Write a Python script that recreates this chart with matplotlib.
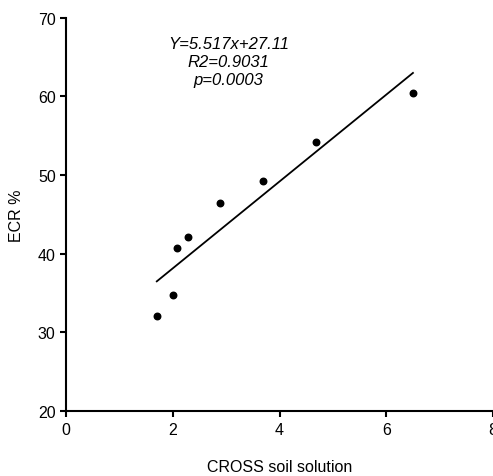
import matplotlib
matplotlib.use("Agg")
from matplotlib import pyplot as plt
import numpy as np

plt.rcParams['font.family'] = ['Liberation Sans', 'DejaVu Sans']

# data
cross = [1.7, 2.0, 2.08, 2.28, 2.88, 3.69, 4.69, 6.5]
ecr = [32.1, 34.7, 40.7, 42.1, 46.4, 49.2, 54.2, 60.4]
slope = 5.517
intercept = 27.11
fit_text = ["Y=5.517x+27.11", "R2=0.9031", "p=0.0003"]

fig = plt.figure(figsize=(4.93, 4.77), dpi=100)
ax = fig.add_axes([0.134, 0.136, 0.866, 0.825])

ax.scatter(cross, ecr, s=22, color='black', zorder=3)
xf = np.array([min(cross), max(cross)])
ax.plot(xf, slope * xf + intercept, color='black', linewidth=1.3)

ax.text(3.05, 64.4, "\n".join(fit_text), ha='center', va='center',
        fontsize=12, style='italic', linespacing=1.25)

ax.set_xlim(0, 8)
ax.set_ylim(20, 70)
ax.set_xticks([0, 2, 4, 6, 8])
ax.set_yticks([20, 30, 40, 50, 60, 70])
ax.spines['top'].set_visible(False)
ax.spines['right'].set_visible(False)
for s in ['left', 'bottom']:
    ax.spines[s].set_linewidth(1.5)
ax.tick_params(width=1.5, length=4, labelsize=11.5, direction='out')
ax.set_xlabel("CROSS soil solution", fontsize=11.5, labelpad=16)
ax.set_ylabel("ECR %", fontsize=11.5, labelpad=10)

plt.savefig("out.png", dpi=100)
